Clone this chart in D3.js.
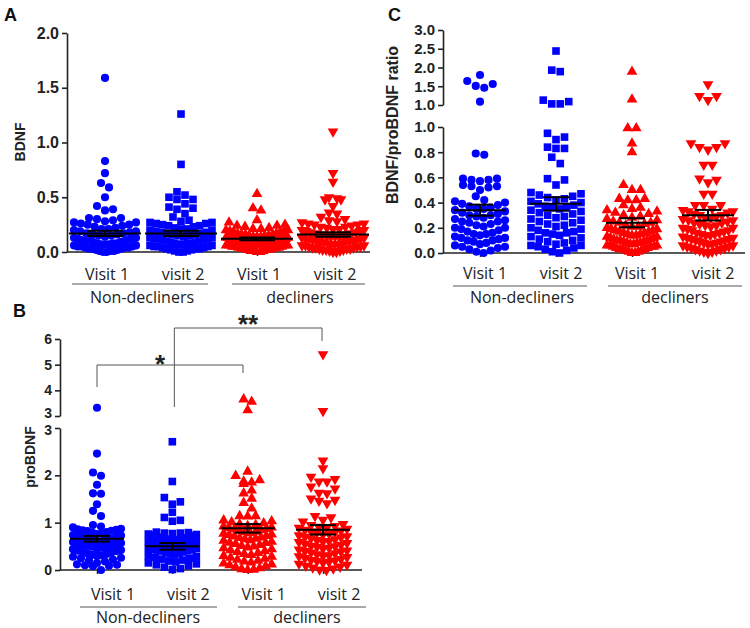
<!DOCTYPE html>
<html><head><meta charset="utf-8">
<script src="https://cdn.jsdelivr.net/npm/d3@7"></script>
<style>
body{margin:0;background:#fff;}
svg{display:block;}
</style></head>
<body><svg id="chart" width="750" height="628"></svg>
<script>
const categories = ["Visit 1","visit 2","Visit 1","visit 2"];
const groupLabels = ["Non-decliners","decliners"];

// ---- Panel A: BDNF ----
const bdnfNonV1 = [1.59,0.83,0.72,0.63,0.59,0.50,0.42,0.39,0.38,0.31,0.30,0.31,
0.29,0.28,0.27,0.27,0.26,0.25,0.25,0.24,0.23,0.22,0.21,0.21,0.20,0.19,0.19,
0.18,0.17,0.17,0.16,0.16,0.15,0.15,0.14,0.13,0.13,0.12,0.12,0.11,0.11,0.10,0.10,0.10,
0.09,0.09,0.08,0.08,0.08,0.07,0.07,0.07,0.06,0.06,0.05,0.05,0.05,0.04,0.04,0.04,0.03,
0.03,0.03,0.02,0.02,0.01,0.01,0.00,0.00,0.01];
const bdnfNonV2 = [1.26,0.80,0.55,0.52,0.48,0.48,0.50,0.44,0.41,0.40,0.39,0.35,0.32,0.29,
0.28,0.27,0.27,0.26,0.26,0.25,0.24,0.24,0.23,0.22,0.21,0.21,0.20,0.20,0.19,
0.18,0.18,0.17,0.17,0.16,0.16,0.15,0.15,0.14,0.13,0.13,0.12,0.12,0.11,0.11,0.10,
0.10,0.09,0.09,0.08,0.08,0.07,0.07,0.06,0.06,0.05,0.05,0.04,0.04,0.03,0.03,0.02,
0.02,0.01,0.01,0.00,0.00,0.03,0.05,0.08,0.12];
const bdnfDecV1 = [0.53,0.40,0.38,0.29,0.27,0.25,0.24,0.24,0.23,
0.22,0.21,0.21,0.20,0.20,0.19,0.19,0.18,0.18,0.17,0.17,0.16,0.16,0.16,0.15,0.15,0.15,0.14,0.14,0.14,
0.13,0.13,0.13,0.12,0.12,0.12,0.12,0.11,0.11,0.11,0.10,0.10,0.10,0.10,0.09,0.09,0.09,0.09,0.08,0.08,
0.08,0.08,0.07,0.07,0.07,0.06,0.06,0.06,0.06,0.05,0.05,0.05,0.04,0.04,0.04,0.03,0.03,0.03,0.02,0.02,
0.02,0.01,0.01,0.01,0.00,0.00,0.11,0.09,0.07];
const bdnfDecV2 = [1.10,0.72,0.64,0.50,0.49,0.48,0.48,0.42,0.36,0.35,0.32,0.30,0.29,
0.28,0.27,0.26,0.26,0.25,0.25,0.24,0.23,0.23,0.22,0.21,0.21,0.20,0.20,0.19,0.19,0.18,0.18,0.17,0.17,
0.16,0.16,0.15,0.15,0.15,0.14,0.14,0.13,0.13,0.12,0.12,0.11,0.11,0.10,0.10,0.10,0.09,0.09,0.08,0.08,
0.07,0.07,0.07,0.06,0.06,0.05,0.05,0.05,0.04,0.04,0.03,0.03,0.03,0.02,0.02,0.01,0.01,0.00,0.00,0.12,
0.09,0.06,0.14,0.04,0.02];
const bdnfMean = [0.17,0.17,0.12,0.16];
const bdnfSem = [0.025,0.025,0.012,0.02];

// ---- Panel B: proBDNF ----
const proNonV1 = [3.32,2.46,2.06,1.99,1.80,1.62,1.61,1.39,1.25,1.14,0.95,0.92,0.90,
0.87,0.86,0.85,0.84,0.83,0.82,0.80,0.79,0.77,0.76,0.74,0.73,0.72,0.70,0.69,
0.67,0.66,0.65,0.63,0.62,0.61,0.60,0.59,0.57,0.56,0.55,0.53,0.52,0.51,0.50,0.49,
0.47,0.45,0.44,0.42,0.41,0.40,0.38,0.37,0.35,0.34,0.32,0.31,0.30,0.28,0.26,0.25,
0.22,0.20,0.18,0.15,0.12,0.10,0.11,0.09,0.08,0.00];
const proNonV2 = [2.71,1.87,1.53,1.44,1.39,1.22,1.11,1.05,1.03,
0.80,0.79,0.78,0.78,0.77,0.76,0.75,0.74,0.72,0.71,0.70,0.69,0.68,0.67,0.66,0.65,0.64,0.63,0.62,0.61,
0.60,0.59,0.58,0.57,0.56,0.55,0.54,0.53,0.52,0.51,0.50,0.49,0.48,0.47,0.46,0.45,0.44,0.43,0.42,0.41,
0.40,0.38,0.37,0.35,0.34,0.32,0.30,0.28,0.27,0.25,0.23,0.21,0.19,0.17,0.15,0.13,0.11,0.09,0.06,0.03,0.01];
const proDecV1 = [3.65,3.56,3.23,2.08,1.99,1.90,1.87,1.85,1.82,1.68,1.62,1.51,1.42,1.30,1.14,1.14,1.13,
1.05,1.03,1.01,0.99,0.97,0.95,0.93,0.92,0.90,0.89,0.87,0.86,0.84,0.83,0.81,0.80,0.78,0.77,0.75,0.74,
0.72,0.71,0.69,0.68,0.66,0.65,0.63,0.62,0.60,0.58,0.57,0.55,0.53,0.51,0.50,0.48,0.46,0.44,0.42,0.40,
0.38,0.36,0.34,0.32,0.30,0.28,0.26,0.24,0.22,0.20,0.18,0.16,0.14,0.12,0.10,0.08,0.06,0.04,0.02,0.01,0.00];
const proDecV2 = [5.40,3.19,2.31,2.15,1.97,1.92,1.87,1.87,1.76,1.72,1.63,1.62,1.51,1.48,1.46,1.41,1.14,1.11,1.06,1.02,
0.97,0.95,0.93,0.91,0.89,0.87,0.85,0.83,0.81,0.79,0.77,0.75,0.73,0.71,0.69,0.67,0.65,0.63,0.61,0.59,
0.57,0.55,0.53,0.51,0.49,0.47,0.45,0.43,0.41,0.39,0.37,0.35,0.33,0.31,0.29,0.27,0.25,0.23,0.21,0.19,
0.17,0.15,0.13,0.11,0.09,0.07,0.05,0.03,0.01,0.00,0.90,0.80,0.70,0.60,0.50,0.40,0.30,0.20];
const proMean = [0.66,0.50,0.88,0.85];
const proSem = [0.06,0.07,0.09,0.10];

// ---- Panel C: BDNF/proBDNF ratio ----
const ratioNonV1 = [1.80,1.64,1.56,1.51,1.46,1.09,0.79,0.78,0.59,0.58,0.57,0.58,0.59,0.53,0.53,0.52,0.54,0.50,0.45,
0.42,0.41,0.40,0.39,0.38,0.37,0.36,0.35,0.34,0.33,0.32,0.31,0.30,0.29,0.28,0.27,0.26,0.25,
0.24,0.23,0.22,0.21,0.20,0.19,0.18,0.17,0.16,0.15,0.14,0.13,0.12,0.11,0.10,0.09,0.08,0.07,
0.06,0.05,0.04,0.03,0.02,0.01,0.00,0.05,0.10,0.15,0.20,0.25,0.30,0.35,0.12];
const ratioNonV2 = [2.44,1.93,1.89,1.13,1.09,1.03,1.03,0.95,0.92,0.90,0.84,0.83,0.83,0.76,0.71,0.59,0.58,0.54,
0.48,0.47,0.46,0.45,0.44,0.43,0.42,0.41,0.40,0.39,0.38,0.37,0.36,0.35,0.34,0.33,0.32,0.31,0.30,0.29,
0.28,0.27,0.26,0.25,0.24,0.23,0.22,0.21,0.20,0.19,0.18,0.17,0.16,0.15,0.14,0.13,0.12,0.11,0.10,0.09,
0.08,0.07,0.06,0.05,0.04,0.03,0.02,0.01,0.00,0.06,0.16,0.36];
const ratioDecV1 = [1.89,1.15,0.99,0.99,0.87,0.80,0.54,0.50,0.50,0.43,0.42,0.42,0.43,0.38,
0.36,0.35,0.34,0.33,0.32,0.31,0.30,0.29,0.28,0.27,0.26,0.25,0.24,0.24,0.23,0.22,0.21,0.21,0.20,0.19,
0.18,0.18,0.17,0.16,0.16,0.15,0.14,0.14,0.13,0.12,0.12,0.11,0.10,0.10,0.09,0.09,0.08,0.08,0.07,0.07,
0.06,0.06,0.05,0.05,0.04,0.04,0.03,0.03,0.02,0.02,0.01,0.01,0.00,0.00,0.11,0.13,0.15,0.17,0.19,0.05,
0.08,0.03,0.10,0.06];
const ratioDecV2 = [1.55,1.24,1.24,1.13,0.87,0.87,0.84,0.84,0.82,0.70,0.70,0.59,0.56,0.58,0.47,0.47,0.38,0.38,0.38,
0.35,0.34,0.33,0.32,0.31,0.30,0.29,0.28,0.27,0.26,0.25,0.24,0.23,0.22,0.21,0.20,0.19,0.18,0.17,0.16,
0.15,0.14,0.13,0.12,0.11,0.10,0.09,0.08,0.07,0.06,0.05,0.04,0.03,0.02,0.01,0.00,0.02,0.04,0.06,0.08,
0.10,0.12,0.14,0.16,0.18,0.20,0.22,0.24,0.26,0.28,0.30,0.33,0.15,0.11,0.07,0.03,0.01,0.05,0.09];
const ratioMean = [0.34,0.39,0.24,0.30];
const ratioSem = [0.044,0.053,0.036,0.042];

const colors = ["#0000ff","#0000ff","#ff0000","#ff0000"];
const shapes = ["circle","square","up","down"];

const svg = d3.select("#chart");
const numFont = "'Liberation Sans', Arial, sans-serif";
const catFont = "'Open Sans', 'Noto Sans', sans-serif";

function symbolPath(shape){
  if(shape==="circle") return d3.symbol(d3.symbolCircle, 52)();
  if(shape==="square") return d3.symbol(d3.symbolSquare, 58)();
  return d3.symbol(d3.symbolTriangle, 50)();
}

// Prism-like row layout: points binned into rows, centre holds lowest value,
// higher values pushed outwards.
function swarm(vals, yf, cx, rowH, spacing, maxHalf){
  const pts = vals.map(v=>({v, y:yf(v)})).sort((a,b)=>b.y-a.y);
  const rows=[]; let cur=null;
  for(const p of pts){
    if(!cur || cur.y0 - p.y >= rowH){ cur={y0:p.y, pts:[]}; rows.push(cur); }
    cur.pts.push(p);
  }
  rows.forEach(r=>{
    const n=r.pts.length;
    const sp = n>1 ? Math.min(spacing, 2*maxHalf/(n-1)) : 0;
    const slots = d3.range(n).map(j=>(j-(n-1)/2)*sp);
    slots.sort((a,b)=>Math.abs(a)-Math.abs(b) || b-a);
    r.pts.forEach((p,j)=>{ p.x = cx + slots[j]; });
  });
  return pts;
}

function drawPanel(c){
  const g = svg.append("g");
  const x = d3.scalePoint().domain([0,1,2,3]).range(c.xRange);
  const segs = c.segments.map(s=>Object.assign({}, s, {scale:d3.scaleLinear().domain(s.domain).range(s.range)}));
  const yf = v => (segs.length>1 && v>c.breakAt) ? segs[1].scale(v) : segs[0].scale(v);

  // y axes
  segs.forEach(s=>{
    const ax = g.append("g").attr("transform",`translate(${c.axisX},0)`)
      .call(d3.axisLeft(s.scale).tickValues(s.ticks).tickFormat(d3.format(c.fmt))
        .tickSize(5).tickSizeOuter(0).tickPadding(c.tickPad));
    ax.select(".domain").attr("stroke","#222").attr("stroke-width",1.6);
    ax.selectAll(".tick line").attr("stroke","#222").attr("stroke-width",1.6);
    ax.selectAll(".tick text").attr("font-family",numFont).attr("font-weight","bold")
      .attr("font-size",c.tickFont).attr("fill","#222")
      .attr("transform",(d,i)=> (s.shift && d===s.shift[0]) ? `translate(0,${s.shift[1]})` : null);
  });

  // x axis
  const xa = g.append("g").attr("transform",`translate(0,${c.baseY})`)
    .call(d3.axisBottom(x).tickSize(4).tickFormat(""));
  xa.select(".domain").remove();
  xa.selectAll(".tick line").attr("stroke","#222").attr("stroke-width",1.5);
  g.append("line").attr("x1",c.axisX).attr("x2",c.xEnd).attr("y1",c.baseY).attr("y2",c.baseY)
    .attr("stroke","#222").attr("stroke-width",1.6);

  // category labels
  g.selectAll("text.cat").data(categories).join("text").attr("class","cat")
    .attr("x",(d,i)=>x(i)+c.labelDx).attr("y",c.labelBase).attr("text-anchor","middle")
    .attr("font-family",catFont).attr("font-size",16).attr("fill","#222").text(d=>d);
  c.lineSpans.forEach((sp,i)=>{
    g.append("line").attr("x1",sp[0]).attr("x2",sp[1]).attr("y1",c.lineY).attr("y2",c.lineY)
      .attr("stroke","#555").attr("stroke-width",1);
    g.append("text").attr("x",c.groupCenters[i]).attr("y",c.groupBase).attr("text-anchor","middle")
      .attr("font-family",catFont).attr("font-size",16).attr("fill","#222").text(groupLabels[i]);
  });

  // points
  c.series.forEach((vals,i)=>{
    const pts = swarm(vals, yf, x(i), c.rowH, c.spacing, c.maxHalf);
    const path = symbolPath(shapes[i]);
    g.append("g").selectAll("path").data(pts).join("path")
      .attr("d",path)
      .attr("transform",p=>`translate(${p.x},${p.y})${shapes[i]==="down"?" rotate(180)":""}`)
      .attr("fill",colors[i]);
  });

  // mean +/- SEM
  c.means.forEach((m,i)=>{
    const cx = x(i);
    g.append("line").attr("x1",cx-c.meanHalf).attr("x2",cx+c.meanHalf)
      .attr("y1",yf(m)).attr("y2",yf(m)).attr("stroke","#000").attr("stroke-width",2);
    const lo = m - c.sems[i], hi = m + c.sems[i];
    g.append("line").attr("x1",cx).attr("x2",cx).attr("y1",yf(lo)).attr("y2",yf(hi))
      .attr("stroke","#000").attr("stroke-width",2);
    [lo,hi].forEach(v=>{
      g.append("line").attr("x1",cx-c.capHalf).attr("x2",cx+c.capHalf)
        .attr("y1",yf(v)).attr("y2",yf(v)).attr("stroke","#000").attr("stroke-width",2);
    });
  });

  // y label
  g.append("text").attr("transform",`translate(${c.yLabelPos[0]},${c.yLabelPos[1]}) rotate(-90)`)
    .attr("text-anchor","middle").attr("dominant-baseline","central")
    .attr("font-family",numFont).attr("font-weight","bold").attr("font-size",c.yLabelFont)
    .attr("fill","#222").text(c.yLabel);

  // panel letter
  g.append("text").attr("x",c.letterPos[0]).attr("y",c.letterPos[1])
    .attr("font-family",numFont).attr("font-weight","bold").attr("font-size",18)
    .attr("fill","#111").text(c.letter);
  return {x, yf, g};
}

drawPanel({
  letter:"A", letterPos:[4,21],
  axisX:67, xRange:[105,333], xEnd:370, baseY:252,
  segments:[{domain:[0,2], range:[252,33], ticks:[0,0.5,1,1.5,2]}],
  fmt:".1f", tickFont:16, tickPad:3,
  labelDx:2, labelBase:280, lineY:284, lineSpans:[[72,208],[232,365]], groupCenters:[142,300], groupBase:303,
  series:[bdnfNonV1,bdnfNonV2,bdnfDecV1,bdnfDecV2], means:bdnfMean, sems:bdnfSem,
  meanHalf:36, capHalf:18, rowH:7, spacing:8, maxHalf:31,
  yLabel:"BDNF", yLabelPos:[20,142], yLabelFont:14
});

const pB = drawPanel({
  letter:"B", letterPos:[13,317],
  axisX:60, xRange:[97,323], xEnd:362, baseY:570,
  segments:[{domain:[0,3], range:[570,428], ticks:[0,1,2,3], shift:[3,2]},{domain:[3,6], range:[416,339], ticks:[3,4,5,6], shift:[3,-3]}],
  breakAt:3, fmt:"d", tickFont:14, tickPad:3,
  labelDx:16, labelBase:600, lineY:607, lineSpans:[[80,217],[238,366]], groupCenters:[148,307], groupBase:623,
  series:[proNonV1,proNonV2,proDecV1,proDecV2], means:proMean, sems:proSem,
  meanHalf:27, capHalf:13, rowH:7, spacing:8, maxHalf:24,
  yLabel:"proBDNF", yLabelPos:[30,457], yLabelFont:14
});

// significance brackets in B
const bg = pB.g.append("g").attr("fill","none").attr("stroke","#555").attr("stroke-width",1);
bg.append("path").attr("d",`M${pB.x(0)},387V365H243V373`);
bg.append("path").attr("d",`M${pB.x(1)+2},407V328H322V341`);
pB.g.append("text").attr("x",160).attr("y",373).attr("text-anchor","middle")
  .attr("font-family",numFont).attr("font-weight","bold").attr("font-size",26).attr("fill","#222").text("*");
pB.g.append("text").attr("x",248).attr("y",333).attr("text-anchor","middle")
  .attr("font-family",numFont).attr("font-weight","bold").attr("font-size",26).attr("fill","#222").text("**");

drawPanel({
  letter:"C", letterPos:[388,21],
  axisX:443, xRange:[480,708], xEnd:745, baseY:253,
  segments:[{domain:[0,1], range:[253,127], ticks:[0,0.2,0.4,0.6,0.8,1]},{domain:[1,3], range:[105,30], ticks:[1,1.5,2,2.5,3]}],
  breakAt:1, fmt:".1f", tickFont:15, tickPad:3,
  labelDx:5, labelBase:279, lineY:286, lineSpans:[[453,587],[608,742]], groupCenters:[522,675], groupBase:303,
  series:[ratioNonV1,ratioNonV2,ratioDecV1,ratioDecV2], means:ratioMean, sems:ratioSem,
  meanHalf:26, capHalf:13, rowH:8, spacing:8.5, maxHalf:25,
  yLabel:"BDNF/proBDNF ratio", yLabelPos:[392,125], yLabelFont:16
});
</script>
</body></html>
